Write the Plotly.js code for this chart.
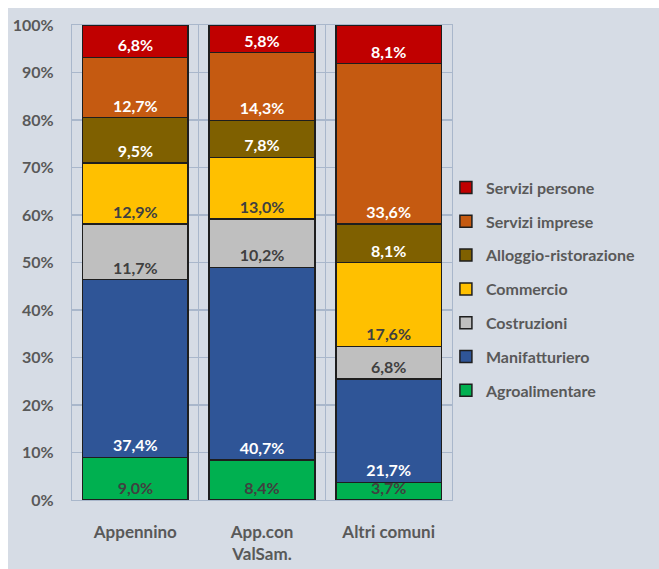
<!DOCTYPE html>
<html>
<head>
<meta charset="utf-8">
<script src="https://cdn.plot.ly/plotly-3.0.1.min.js"></script>
<style>
  html, body { margin: 0; padding: 0; background: #ffffff; }
  #chart { position: absolute; left: 8px; top: 8px; width: 651px; height: 561px; }
</style>
</head>
<body>
<div id="chart"></div>
<script>
const categories = ["Appennino", "App.con<br>ValSam.", "Altri comuni"];
const seriesNames = ["Agroalimentare", "Manifatturiero", "Costruzioni", "Commercio", "Alloggio-ristorazione", "Servizi imprese", "Servizi persone"];
const agroalimentare = [9.0, 8.4, 3.7];
const manifatturiero = [37.4, 40.7, 21.7];
const costruzioni = [11.7, 10.2, 6.8];
const commercio = [12.9, 13.0, 17.6];
const alloggio = [9.5, 7.8, 8.1];
const serviziImprese = [12.7, 14.3, 33.6];
const serviziPersone = [6.8, 5.8, 8.1];
const yTickVals = [0, 10, 20, 30, 40, 50, 60, 70, 80, 90, 100];
const yTickText = ["0%", "10%", "20%", "30%", "40%", "50%", "60%", "70%", "80%", "90%", "100%"];

const seriesValues = [agroalimentare, manifatturiero, costruzioni, commercio, alloggio, serviziImprese, serviziPersone];
const colors = ["#00b050", "#2f5597", "#bfbfbf", "#ffc000", "#7f6000", "#c55a11", "#c00000"];
const textColors = ["#404040", "#ffffff", "#404040", "#404040", "#ffffff", "#ffffff", "#ffffff"];

const fontFam = "Lato, 'Open Sans', sans-serif";
const fmt = v => v.toFixed(1).replace(".", ",") + "%";
const gridCol = "#a9b7cb";

const traces = seriesNames.map((name, i) => ({
  type: "bar",
  name: name,
  legendgroup: name,
  legendrank: 1000 - i,
  x: categories,
  y: seriesValues[i],
  text: seriesValues[i].map(fmt),
  textposition: "inside",
  insidetextanchor: "start",
  constraintext: "none",
  cliponaxis: false,
  textfont: { family: fontFam, size: 16, color: textColors[i], weight: "bold" },
  marker: { color: colors[i], line: { color: "#1e1e1e", width: 1.5 } },
  hoverinfo: "skip"
}));

const layout = {
  width: 651,
  height: 561,
  barmode: "stack",
  barnorm: "percent",
  bargap: 0.165,
  paper_bgcolor: "#d6dce5",
  plot_bgcolor: "#d6dce5",
  margin: { l: 64, r: 207, t: 17, b: 69 },
  font: { family: fontFam, size: 16, color: "#595959", weight: "bold" },
  showlegend: true,
  legend: {
    x: 0.984, xanchor: "left",
    y: 0.444, yanchor: "middle",
    traceorder: "grouped",
    tracegroupgap: 10,
    bgcolor: "rgba(0,0,0,0)",
    font: { family: fontFam, size: 16, color: "#595959", weight: "bold" }
  },
  xaxis: {
    type: "category",
    tickson: "boundaries",
    showgrid: true,
    gridcolor: gridCol,
    gridwidth: 1.2,
    showline: true,
    mirror: true,
    linecolor: gridCol,
    linewidth: 1.2,
    ticks: "",
    ticklabelstandoff: 16,
    tickfont: { family: fontFam, size: 17, color: "#595959", weight: "bold" }
  },
  yaxis: {
    range: [0, 100.02],
    tickvals: yTickVals,
    ticktext: yTickText,
    showgrid: true,
    gridcolor: gridCol,
    gridwidth: 1.2,
    showline: true,
    mirror: true,
    linecolor: gridCol,
    linewidth: 1.2,
    zeroline: false,
    ticks: "",
    ticklabelstandoff: 14,
    tickfont: { family: fontFam, size: 16, color: "#595959", weight: "bold" }
  }
};

Plotly.newPlot("chart", traces, layout, { displayModeBar: false, staticPlot: true });
</script>
</body>
</html>
